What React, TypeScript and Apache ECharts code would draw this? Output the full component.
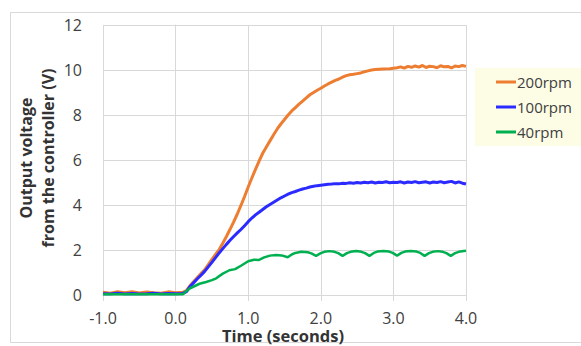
import { useEffect, useRef } from "react";
import * as echarts from "echarts";

// Time base (seconds) shared by the 200rpm and 100rpm recordings
const timeFast = [
  -1.0, -0.9, -0.8, -0.7, -0.6, -0.5, -0.4, -0.3, -0.2, -0.1, 0.0, 0.1,
  0.15, 0.2, 0.25, 0.3, 0.35, 0.4, 0.45, 0.5, 0.55, 0.6, 0.65, 0.7, 0.75, 0.8, 0.85, 0.9, 0.95, 1.0,
  1.05, 1.1, 1.15, 1.2, 1.25, 1.3, 1.35, 1.4, 1.45, 1.5, 1.55, 1.6, 1.65, 1.7, 1.75, 1.8, 1.85, 1.9, 1.95, 2.0,
  2.05, 2.1, 2.15, 2.2, 2.25, 2.3, 2.35, 2.4, 2.45, 2.5, 2.55, 2.6, 2.65, 2.7, 2.75, 2.8, 2.85, 2.9, 2.95, 3.0,
  3.05, 3.1, 3.15, 3.2, 3.25, 3.3, 3.35, 3.4, 3.45, 3.5, 3.55, 3.6, 3.65, 3.7, 3.75, 3.8, 3.85, 3.9, 3.95, 4.0,
];

const rpm200 = [
  0.12, 0.08, 0.15, 0.1, 0.14, 0.09, 0.13, 0.1, 0.08, 0.14, 0.1, 0.12,
  0.2, 0.42, 0.6, 0.78, 0.95, 1.12, 1.35, 1.58, 1.8, 2.02, 2.3, 2.6, 2.92, 3.25, 3.6, 3.98, 4.38, 4.8,
  5.2, 5.58, 5.95, 6.3, 6.58, 6.85, 7.12, 7.38, 7.6, 7.8, 8.0, 8.18, 8.33, 8.48, 8.62, 8.76, 8.9, 9.0, 9.1, 9.19,
  9.29, 9.38, 9.46, 9.54, 9.6, 9.68, 9.75, 9.79, 9.81, 9.84, 9.87, 9.92, 9.96, 10.0, 10.02, 10.03, 10.04, 10.05, 10.06, 10.08,
  10.1, 10.14, 10.08, 10.16, 10.12, 10.18, 10.13, 10.2, 10.11, 10.17, 10.15, 10.1, 10.19, 10.14, 10.16, 10.09, 10.18, 10.15, 10.2, 10.16,
];

const rpm100 = [
  0.06, 0.05, 0.08, 0.05, 0.07, 0.05, 0.06, 0.08, 0.05, 0.07, 0.06, 0.07,
  0.15, 0.38, 0.55, 0.72, 0.88, 1.05, 1.25, 1.45, 1.66, 1.87, 2.06, 2.25, 2.43, 2.6, 2.76, 2.91, 3.08, 3.26,
  3.42, 3.56, 3.68, 3.8, 3.92, 4.02, 4.12, 4.22, 4.32, 4.4, 4.48, 4.55, 4.6, 4.66, 4.71, 4.75, 4.8, 4.83, 4.86, 4.88,
  4.9, 4.92, 4.93, 4.95, 4.94, 4.97, 4.96, 4.99, 4.97, 5.0, 4.98, 5.01, 4.99, 5.02, 4.98, 5.01, 5.0, 5.03, 4.99, 5.01,
  5.0, 5.03, 4.98, 5.02, 5.0, 5.04, 4.99, 5.01, 5.03, 4.98, 5.02, 5.0, 5.04, 4.99, 5.02, 5.05, 4.98, 5.03, 4.97, 4.93,
];

// Time base (seconds) of the 40rpm recording
const timeSlow = [
  -1.0, -0.5, 0.0, 0.1, 0.15, 0.2, 0.33, 0.42, 0.5, 0.56, 0.65, 0.74, 0.82, 0.9, 1.0, 1.08, 1.15, 1.22, 1.3, 1.385, 1.46, 1.545,
  1.6, 1.65, 1.73, 1.82, 1.87, 1.935,
  2.0, 2.05, 2.12, 2.19, 2.24, 2.3,
  2.36, 2.41, 2.49, 2.56, 2.61, 2.67,
  2.73, 2.78, 2.86, 2.94, 2.99, 3.05,
  3.11, 3.16, 3.24, 3.32, 3.37, 3.43,
  3.49, 3.54, 3.61, 3.68, 3.73, 3.79,
  3.85, 3.9, 3.97, 4.0,
];

const rpm40 = [
  0.03, 0.03, 0.03, 0.03, 0.18, 0.3, 0.5, 0.58, 0.66, 0.74, 0.95, 1.1, 1.15, 1.3, 1.5, 1.57, 1.56, 1.67, 1.75, 1.78, 1.76, 1.68,
  1.8, 1.87, 1.92, 1.9, 1.85, 1.74,
  1.86, 1.92, 1.95, 1.92, 1.86, 1.74,
  1.86, 1.92, 1.96, 1.92, 1.86, 1.74,
  1.87, 1.93, 1.96, 1.93, 1.87, 1.75,
  1.87, 1.93, 1.96, 1.93, 1.87, 1.74,
  1.86, 1.92, 1.95, 1.92, 1.86, 1.74,
  1.86, 1.92, 1.96, 1.97,
];

const seriesNames = ["200rpm", "100rpm", "40rpm"];
const seriesColors = ["#ED7D31", "#2B2BFF", "#00B050"];
const yTitleLines = ["Output voltage", "from the controller (V)"];
const xTitle = "Time (seconds)";

const FONT = "'Open Sans', sans-serif";
const GRID = "#d9d9d9";
const TEXT = "#404040";

export default function App() {
  const ref = useRef<HTMLDivElement>(null);
  useEffect(() => {
    const chart = echarts.init(ref.current!, null, { renderer: "svg" });
    const pair = (t: number[], v: number[]) => v.map((y, i) => [t[i], y]);
    const datasets = [pair(timeFast, rpm200), pair(timeFast, rpm100), pair(timeSlow, rpm40)];
    chart.setOption({
      animation: false,
      backgroundColor: "#ffffff",
      grid: { left: 103, top: 25, width: 363, height: 270, containLabel: false },
      xAxis: {
        type: "value",
        min: -1,
        max: 4,
        interval: 1,
        axisLine: { show: true, lineStyle: { color: GRID, width: 1 } },
        axisTick: { show: true, length: 6, lineStyle: { color: GRID } },
        splitLine: { show: true, lineStyle: { color: GRID, width: 1 } },
        axisLabel: {
          margin: 16,
          color: TEXT,
          fontFamily: FONT,
          fontSize: 16,
          lineHeight: 14,
          formatter: (v: number) => v.toFixed(1),
        },
      },
      yAxis: {
        type: "value",
        min: 0,
        max: 12,
        interval: 2,
        axisLine: { show: true, lineStyle: { color: GRID, width: 1 } },
        axisTick: { show: false },
        splitLine: { show: true, lineStyle: { color: GRID, width: 1 } },
        axisLabel: { margin: 21, color: TEXT, fontFamily: FONT, fontSize: 16 },
      },
      legend: {
        orient: "vertical",
        left: 475,
        top: 68,
        backgroundColor: "#fdfde6",
        padding: [5, 30, 5, 21],
        itemGap: 7,
        itemWidth: 20,
        itemHeight: 3,
        icon: "rect",
        data: seriesNames,
        textStyle: { color: TEXT, fontFamily: FONT, fontSize: 15, lineHeight: 18, padding: [0, 0, 0, -4] },
      },
      graphic: [
        {
          type: "rect",
          silent: true,
          shape: { x: 10.5, y: 12.5, width: 600, height: 330 },
          style: { fill: "none", stroke: GRID, lineWidth: 1 },
          z: -1,
        },
        {
          type: "text",
          x: 26,
          y: 158,
          rotation: Math.PI / 2,
          style: {
            text: yTitleLines[0],
            fontFamily: FONT,
            fontSize: 16,
            fontWeight: "bold",
            fill: "#333333",
            align: "center",
            verticalAlign: "middle",
          },
        },
        {
          type: "text",
          x: 48,
          y: 158,
          rotation: Math.PI / 2,
          style: {
            text: yTitleLines[1],
            fontFamily: FONT,
            fontSize: 16,
            fontWeight: "bold",
            fill: "#333333",
            align: "center",
            verticalAlign: "middle",
          },
        },
        {
          type: "text",
          x: 283,
          y: 335,
          style: {
            text: xTitle,
            fontFamily: FONT,
            fontSize: 16.5,
            lineHeight: 15,
            fontWeight: "bold",
            fill: "#333333",
            align: "center",
            verticalAlign: "middle",
          },
        },
      ],
      series: seriesNames.map((name, i) => ({
        name,
        type: "line",
        data: datasets[i],
        showSymbol: false,
        symbol: "none",
        smooth: false,
        color: seriesColors[i],
        lineStyle: { color: seriesColors[i], width: i === 2 ? 2.5 : 3 },
        z: 2 + i,
      })),
    });
    return () => chart.dispose();
  }, []);
  return <div ref={ref} style={{ position: "absolute", left: 0, top: 0, width: 581, height: 346 }} />;
}
